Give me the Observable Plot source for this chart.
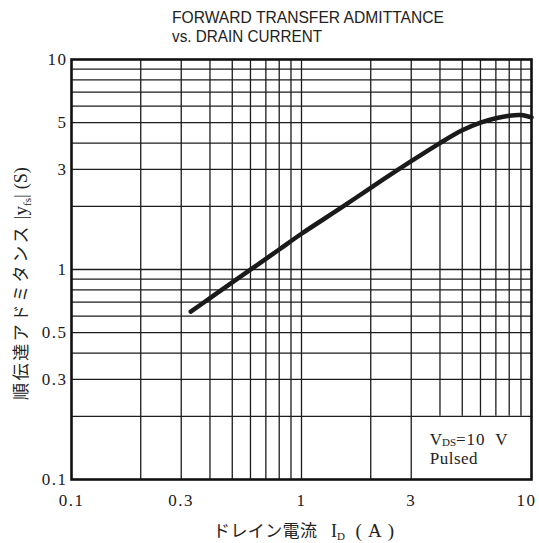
<!DOCTYPE html>
<html><head><meta charset="utf-8">
<script src="https://cdn.jsdelivr.net/npm/d3@7"></script>
<script src="https://cdn.jsdelivr.net/npm/@observablehq/plot@0.6"></script>
<style>body{margin:0;background:#fff} svg{display:block}</style>
</head><body><div id="chart"></div>
<script>
// Data
const drainCurrent = [0.33, 0.4, 0.5, 0.6, 0.7, 0.8, 1, 1.5, 2, 3, 4, 5, 6, 7, 8, 9, 10];
const admittance   = [0.63, 0.73, 0.868, 0.998, 1.124, 1.245, 1.48, 1.98, 2.45, 3.28, 4.0, 4.6, 5.0, 5.25, 5.4, 5.44, 5.3];
const xTickValues = [0.1, 0.3, 0.5, 1, 3, 5];
const xTickLast = [10];
const yTickValues = [0.1, 0.3, 0.5, 1, 3, 5, 10];
const xGridFull = [0.2, 0.3, 0.4, 0.5, 0.6, 0.7, 0.8, 0.9, 1, 2, 3];
const xGridUpper = [4, 5, 6, 7, 8, 9];
const yGrid = [0.2, 0.3, 0.4, 0.5, 0.6, 0.7, 0.8, 0.9, 1, 2, 3, 4, 5, 6, 7, 8, 9];
const boxTop = 0.2;
const titleLines = ["FORWARD TRANSFER ADMITTANCE", "vs. DRAIN CURRENT"];
const yLabelJa = "順伝達アドミタンス";
const xLabelJa = "ドレイン電流";
const noteLines = ["V", "DS", "=10  V", "Pulsed"];

const curve = drainCurrent.map((x, i) => ({x, y: admittance[i]}));
const serif = "'Liberation Serif', 'DejaVu Serif', serif";
const gridStroke = "#1c1c1c";
const tickOpts = {tickSize: 0, fontSize: 17, fontFamily: serif, tickFormat: d => String(d), label: null, fill: "#1a1a1a"};

const plot = Plot.plot({
  width: 539, height: 543,
  marginLeft: 71, marginRight: 8, marginTop: 59, marginBottom: 64,
  style: {background: "white", fontFamily: serif},
  x: {type: "log", domain: [0.1, 10]},
  y: {type: "log", domain: [0.1, 10]},
  marks: [
    Plot.ruleX(xGridFull, {x: d => d, stroke: gridStroke, strokeWidth: 1.3}),
    Plot.ruleX(xGridUpper, {x: d => d, y1: () => boxTop, y2: () => 10, stroke: gridStroke, strokeWidth: 1.3}),
    Plot.ruleY(yGrid, {y: d => d, stroke: gridStroke, strokeWidth: 1.3}),
    Plot.frame({stroke: "#111", strokeWidth: 2.6}),
    Plot.line(curve, {x: "x", y: "y", curve: "catmull-rom", stroke: "#1a1a1a", strokeWidth: 4.5, strokeLinecap: "round"}),
    Plot.axisX(xTickValues, {...tickOpts, tickPadding: 14}),
    Plot.axisX(xTickLast, {...tickOpts, tickPadding: 14, dx: -5}),
    Plot.axisY(yTickValues, {...tickOpts, tickPadding: 4})
  ]
});
document.getElementById("chart").appendChild(plot);

const svg = d3.select(plot);
svg.selectAll("[aria-label$='tick label']").attr("font-family", serif).style("font-family", serif);
svg.selectAll("[aria-label$='tick label'] text").attr("letter-spacing", 1.5).style("font-family", serif);
const sx = plot.scale("x");
const sans = "'Liberation Sans', Arial, sans-serif";
const cjk = "'Noto Sans CJK JP', sans-serif";

// Title
const t = svg.append("g").attr("fill", "#222").attr("font-family", sans).attr("font-size", 17).attr("text-anchor", "start");
t.append("text").attr("x", 172).attr("y", 23).attr("textLength", 272).attr("lengthAdjust", "spacingAndGlyphs").text(titleLines[0]);
t.append("text").attr("x", 172).attr("y", 42).attr("textLength", 150).attr("lengthAdjust", "spacingAndGlyphs").text(titleLines[1]);

// Y label (reads bottom to top)
const yl = svg.append("text").attr("transform", "translate(27,400) rotate(-90)")
  .attr("text-anchor", "start").attr("fill", "#222").attr("font-size", 17);
yl.append("tspan").attr("font-family", cjk).attr("letter-spacing", 2.6).text(yLabelJa);
yl.append("tspan").attr("font-family", serif).attr("font-size", 19).text(" |y");
yl.append("tspan").attr("font-family", serif).attr("font-size", 11).attr("dy", 4).text("fs");
yl.append("tspan").attr("font-family", serif).attr("font-size", 19).attr("dy", -4).text("| ");
yl.append("tspan").attr("font-family", serif).attr("font-size", 18).text("(S)");

// X label
const xl = svg.append("text").attr("x", 213).attr("y", 537)
  .attr("text-anchor", "start").attr("fill", "#222").attr("font-size", 17);
xl.append("tspan").attr("font-family", cjk).attr("letter-spacing", 0.4).text(xLabelJa);
xl.append("tspan").attr("font-family", serif).attr("font-size", 18).text("   I");
xl.append("tspan").attr("font-family", serif).attr("font-size", 11).attr("dy", 3).text("D");
xl.append("tspan").attr("font-family", serif).attr("font-size", 19).attr("dy", -3).attr("letter-spacing", 6).text(" (A)");

// Note in the lower-right box
const nx = sx.apply(3) + 19;
const n1 = svg.append("text").attr("x", nx).attr("y", 444.5).attr("text-anchor", "start").attr("fill", "#222").attr("font-family", serif).attr("font-size", 17);
n1.append("tspan").text(noteLines[0]);
n1.append("tspan").attr("font-size", 11).attr("dy", 1).text(noteLines[1]);
n1.append("tspan").attr("dy", -1).attr("letter-spacing", 0.9).text(noteLines[2]);
svg.append("text").attr("x", nx).attr("y", 463.5).attr("text-anchor", "start").attr("fill", "#222").attr("font-family", serif).attr("font-size", 17).attr("letter-spacing", 0.5).text(noteLines[3]);
</script></body></html>
